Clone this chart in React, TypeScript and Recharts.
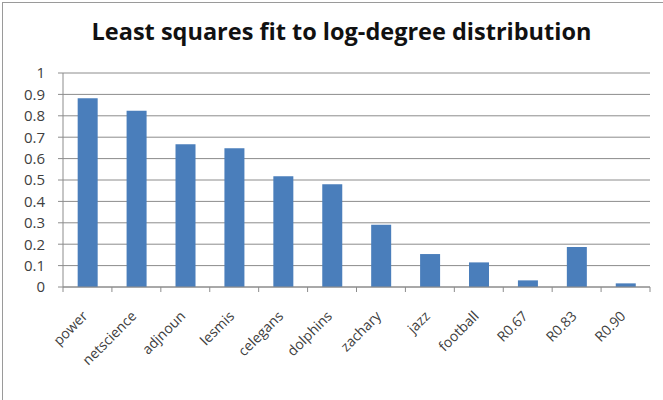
import { BarChart, Bar, XAxis, YAxis, CartesianGrid } from 'recharts';

// Least squares fit values per network
const networks = ['power', 'netscience', 'adjnoun', 'lesmis', 'celegans', 'dolphins', 'zachary', 'jazz', 'football', 'R0.67', 'R0.83', 'R0.90'];
const fitValues = [0.882, 0.824, 0.667, 0.648, 0.517, 0.48, 0.291, 0.154, 0.115, 0.031, 0.187, 0.017];
const yTicks = [0, 0.1, 0.2, 0.3, 0.4, 0.5, 0.6, 0.7, 0.8, 0.9, 1];

const data = networks.map((name, i) => ({ name, value: fitValues[i] }));

const CHART_W = 663;
const CHART_H = 400;
const PLOT_LEFT = 63;
const PLOT_RIGHT = 13;
const BAND = (CHART_W - PLOT_LEFT - PLOT_RIGHT) / networks.length;

const FONT = '"Open Sans", "Liberation Sans", sans-serif';

interface TickProps {
  x?: number;
  y?: number;
  index?: number;
  payload?: { value: string };
}

// Excel-style category tick: marks between categories, rotated label
const CategoryTick = ({ x = 0, y = 0, index = 0, payload }: TickProps) => {
  const left = x - BAND / 2;
  const isLast = index === networks.length - 1;
  const tx = x + 1;
  const ty = y + 22;
  return (
    <g>
      <line x1={left} y1={y - 8} x2={left} y2={y - 3} stroke="#8c8c8c" />
      {isLast && <line x1={left + BAND} y1={y - 8} x2={left + BAND} y2={y - 3} stroke="#8c8c8c" />}
      <text
        x={tx}
        y={ty}
        textAnchor="end"
        fontSize={14}
        fill="#404040"
        fontFamily={FONT}
        transform={`rotate(-45, ${tx}, ${ty})`}
      >
        {payload?.value}
      </text>
    </g>
  );
};

export default function App() {
  return (
    <div style={{ position: 'absolute', left: 0, top: 0, width: CHART_W, height: CHART_H, background: '#fff' }}>
      <div
        style={{
          position: 'absolute',
          left: 2,
          top: 2,
          width: CHART_W,
          height: CHART_H,
          borderLeft: '1px solid #9a9a9a',
          borderTop: '1px solid #9a9a9a',
        }}
      />
      <div
        style={{
          position: 'absolute',
          left: 10,
          top: 15,
          width: CHART_W,
          textAlign: 'center',
          fontFamily: FONT,
          fontWeight: 'bold',
          fontSize: 23.5,
          color: '#111',
        }}
      >
        Least squares fit to log-degree distribution
      </div>
      <BarChart
        width={CHART_W}
        height={CHART_H}
        data={data}
        margin={{ top: 73, right: PLOT_RIGHT, bottom: 13, left: 0 }}
        barCategoryGap="30%"
      >
        <CartesianGrid vertical={false} stroke="#8c8c8c" />
        <XAxis
          dataKey="name"
          interval={0}
          height={100}
          axisLine={{ stroke: '#8c8c8c' }}
          tickLine={false}
          tick={<CategoryTick />}
        />
        <YAxis
          width={PLOT_LEFT}
          domain={[0, 1]}
          ticks={yTicks}
          interval={0}
          axisLine={{ stroke: '#8c8c8c' }}
          tickLine={{ stroke: '#8c8c8c' }}
          tickSize={5}
          tickMargin={13}
          tick={{ fontSize: 15, fill: '#404040', fontFamily: FONT }}
        />
        <Bar dataKey="value" fill="#4a7ebb" isAnimationActive={false} />
      </BarChart>
    </div>
  );
}
